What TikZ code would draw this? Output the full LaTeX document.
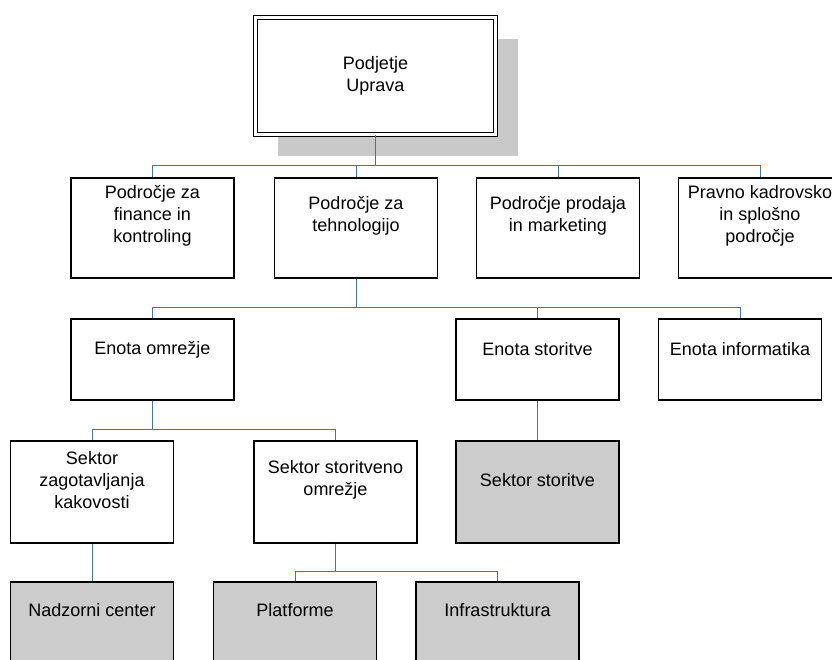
\documentclass[tikz,border=0pt]{standalone}
\usepackage{fontspec}
\setmainfont{Liberation Sans}
\usetikzlibrary{calc}
\usetikzlibrary{positioning}
\usetikzlibrary{shadows}
\definecolor{linkblue}{RGB}{70,118,148}
\definecolor{boxgray}{RGB}{204,204,204}
\tikzset{
	unit/.style={
		rectangle,
		draw=black, line width=1.2pt,
		fill=white,
		minimum width=163pt,
		minimum height=100pt,
		inner sep=0pt},
	short/.style={minimum height=81pt},
	grey/.style={fill=boxgray},
	txt/.style={align=center, yshift=12pt},
	head/.style={
		rectangle,
		draw=black, line width=1pt,
		double=white, double distance=3pt,
		fill=white,
		minimum width=240pt,
		minimum height=117pt,
		align=center,
		drop shadow={shadow xshift=22pt, shadow yshift=-21pt,
			fill=black!21, opacity=1}},
	link/.style={draw=linkblue, line width=0.9pt},
}

\begin{document}
\begin{tikzpicture}[x=1pt, y=-1pt, font=\fontsize{18}{22}\selectfont]
	\useasboundingbox (0,0) rectangle (832,659);
	\clip (0,0) rectangle (832,659);
	% top
	\node[head] (uprava) at (375.5,76) {Podjetje\\Uprava};
	% podrocja
	\node[unit, label={[txt]center:Področje za\\finance in\\kontroling}] (finance) at (152.5,228) {};
	\node[unit, label={[txt]center:Področje za\\tehnologijo}] (tehnologija) at (356,228) {};
	\node[unit, label={[txt]center:Področje prodaja\\in marketing}] (prodaja) at (558,228) {};
	\node[unit, label={[txt]center:Pravno kadrovsko\\in splošno\\področje}] (pravno) at (760,228) {};
	% enote
	\node[unit, short, label={[txt, yshift=-2pt]center:Enota omrežje}] (omrezje) at (152.5,359.5) {};
	\node[unit, short, label={[txt, yshift=-2pt]center:Enota storitve}] (storitve) at (537.5,359.5) {};
	\node[unit, short, label={[txt, yshift=-2pt]center:Enota informatika}] (informatika) at (740,359.5) {};
	% sektorji
	\node[unit, minimum height=102pt, label={[txt]center:Sektor\\zagotavljanja\\kakovosti}] (kakovost) at (92,492) {};
	\node[unit, minimum height=102pt, label={[txt]center:Sektor storitveno\\omrežje}] (stomrezje) at (335.5,492) {};
	\node[unit, grey, minimum height=102pt, label={[txt]center:Sektor storitve}] (sstoritve) at (537.5,492) {};
	% spodnja vrsta
	\node[unit, short, grey, label={[txt]center:Nadzorni center}] (nadzor) at (92,622.5) {};
	\node[unit, short, grey, label={[txt]center:Platforme}] (platforme) at (295,622.5) {};
	\node[unit, short, grey, label={[txt]center:Infrastruktura}] (infra) at (497.5,622.5) {};

	% povezave
	\coordinate (bus1) at (0,165);
	\coordinate (bus2) at (0,307);
	\coordinate (bus3) at (0,429);
	\coordinate (bus4) at (0,571);
	\foreach \c in {finance,tehnologija,prodaja,pravno}
		\draw[link] (uprava.south) |- (bus1 -| \c) -- (\c.north);
	\foreach \c in {omrezje,storitve,informatika}
		\draw[link] (tehnologija.south) |- (bus2 -| \c) -- (\c.north);
	\foreach \c in {kakovost,stomrezje}
		\draw[link] (omrezje.south) |- (bus3 -| \c) -- (\c.north);
	\foreach \c in {platforme,infra}
		\draw[link] (stomrezje.south) |- (bus4 -| \c) -- (\c.north);
	\draw[link] (storitve.south) -- (sstoritve.north);
	\draw[link] (kakovost.south) -- (nadzor.north);
\end{tikzpicture}
\end{document}
